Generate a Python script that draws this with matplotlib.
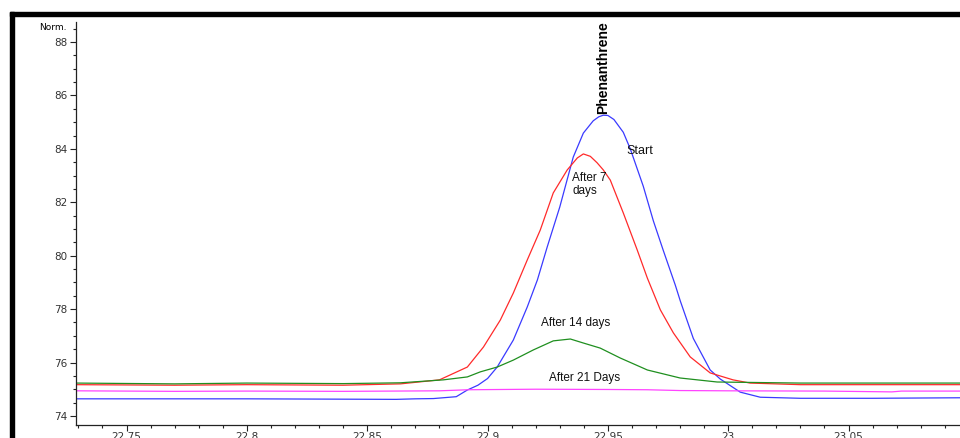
import matplotlib
matplotlib.use("Agg")
import matplotlib.pyplot as plt
from matplotlib.patches import Rectangle
from matplotlib.ticker import MultipleLocator

# ── Data ─────────────────────────────────────────────────────────────────────
start_t = [22.729, 22.80, 22.862, 22.87, 22.8775, 22.887, 22.8916, 22.8960,
           22.900, 22.904, 22.9107, 22.9165, 22.9207, 22.9248, 22.930,
           22.9356, 22.9398, 22.9439, 22.9462, 22.9481, 22.950, 22.9525,
           22.9564, 22.9593, 22.9647, 22.9689, 22.973, 22.978, 22.9801,
           22.9855, 22.9925, 22.9967, 23.005, 23.0133, 23.030, 23.060, 23.097]
start_v = [74.64, 74.64, 74.62, 74.64, 74.65, 74.72, 74.97, 75.15,
           75.40, 75.83, 76.84, 78.08, 79.09, 80.33, 81.82,
           83.69, 84.59, 85.05, 85.20, 85.26, 85.25, 85.10,
           84.62, 84.00, 82.60, 81.30, 80.20, 78.90, 78.30,
           76.90, 75.72, 75.38, 74.89, 74.70, 74.66, 74.66, 74.68]

day7_t = [22.729, 22.77, 22.80, 22.84, 22.8638, 22.880, 22.8916, 22.8983,
          22.9053, 22.9107, 22.9165, 22.9219, 22.9273, 22.9331, 22.9373,
          22.9398, 22.9427, 22.9455, 22.9481, 22.951, 22.9564, 22.9622,
          22.9664, 22.9718, 22.9772, 22.9842, 22.9925, 23.002, 23.0091,
          23.030, 23.097]
day7_v = [75.17, 75.15, 75.17, 75.15, 75.20, 75.35, 75.83, 76.58,
          77.59, 78.60, 79.84, 80.96, 82.35, 83.21, 83.66,
          83.81, 83.72, 83.48, 83.21, 82.83, 81.60, 80.21,
          79.16, 77.97, 77.11, 76.21, 75.61, 75.35, 75.23,
          75.17, 75.17]

day14_t = [22.729, 22.77, 22.80, 22.84, 22.8638, 22.8816, 22.8916, 22.897,
           22.904, 22.9107, 22.919, 22.9273, 22.9344, 22.9398, 22.9468,
           22.9551, 22.9664, 22.980, 22.9954, 23.030, 23.097]
day14_v = [75.23, 75.20, 75.23, 75.21, 75.24, 75.35, 75.46, 75.65,
           75.83, 76.09, 76.47, 76.81, 76.88, 76.73, 76.54,
           76.17, 75.72, 75.42, 75.27, 75.23, 75.23]

day21_t = [22.729, 22.77, 22.80, 22.84, 22.880, 22.892, 22.92, 22.95,
           22.9664, 22.98, 23.00, 23.04, 23.068, 23.072, 23.097]
day21_v = [74.94, 74.92, 74.93, 74.92, 74.94, 74.98, 75.00, 74.99,
           74.98, 74.95, 74.94, 74.93, 74.90, 74.93, 74.93]

series = [
    (start_t, start_v, "#3a3aff"),
    (day7_t, day7_v, "#ff2a2a"),
    (day14_t, day14_v, "#1f8f1f"),
    (day21_t, day21_v, "#ff44ff"),
]

labels = [
    ("Start", 22.9576, 83.92, 9),
    ("After 7\ndays", 22.9352, 82.65, 8.5),
    ("After 14 days", 22.9223, 77.48, 8.5),
    ("After 21 Days", 22.9257, 75.42, 8.5),
]

plt.rcParams["font.family"] = ["Liberation Sans", "DejaVu Sans"]

fig = plt.figure(figsize=(9.6, 4.38), dpi=100)
ax = fig.add_axes([76 / 960, 13 / 438, 884 / 960, 403 / 438])

for t, v, c in series:
    ax.plot(t, v, color=c, linewidth=0.9)

ax.set_xlim(22.729, 23.0963)
ax.set_ylim(73.66, 88.75)

ax.xaxis.set_major_locator(MultipleLocator(0.05))
ax.xaxis.set_minor_locator(MultipleLocator(0.01))
ax.yaxis.set_major_locator(MultipleLocator(2))
ax.yaxis.set_minor_locator(MultipleLocator(0.5))
ax.xaxis.set_major_formatter(plt.FuncFormatter(lambda v, p: f"{v:g}"))

ax.tick_params(axis="both", which="major", labelsize=7.5, colors="#222222",
               labelcolor="#333333", length=4, width=0.8, pad=2)
ax.tick_params(axis="x", which="major", pad=1)
ax.tick_params(axis="both", which="minor", length=2.5, width=0.8,
               colors="#222222")
for lbl in ax.get_xticklabels() + ax.get_yticklabels():
    lbl.set_family("DejaVu Sans")

for s in ("top", "right"):
    ax.spines[s].set_visible(False)
for s in ("left", "bottom"):
    ax.spines[s].set_color("#222222")
    ax.spines[s].set_linewidth(0.9)

# peak label and curve annotations
ax.text(22.9481, 85.32, "Phenanthrene", rotation=90, ha="center", va="bottom",
        fontsize=10, fontweight="bold")
for txt, x, y, fs in labels:
    ax.text(x, y, txt, fontsize=fs, ha="left", va="center",
            multialignment="left", color="#111111", linespacing=1.1)

fig.text(67 / 960, 1 - 28 / 438, "Norm.", fontsize=6.5, ha="right",
         va="center", family="DejaVu Sans")

# black screenshot frame on top and left
fig.patches.append(Rectangle((10 / 960, 1 - 16 / 438), 950 / 960, 4 / 438,
                             transform=fig.transFigure, color="black"))
fig.patches.append(Rectangle((10 / 960, 0), 4 / 960, 1 - 12 / 438,
                             transform=fig.transFigure, color="black"))

fig.savefig("out.png", dpi=100)
